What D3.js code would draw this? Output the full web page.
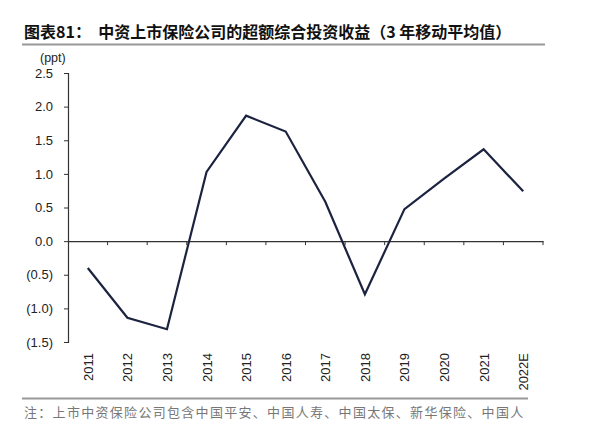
<!DOCTYPE html>
<html><head><meta charset="utf-8">
<script src="https://cdn.jsdelivr.net/npm/d3@7"></script>
<style>body{margin:0;background:#fff;}svg{display:block;}</style>
</head><body>
<svg id="c" width="600" height="425"></svg>
<script>
const categories = ["2011","2012","2013","2014","2015","2016","2017","2018","2019","2020","2021","2022E"];
const values = [-0.40,-1.14,-1.31,1.03,1.865,1.63,0.585,-0.79,0.476,0.93,1.365,0.74];
const yTicks = [2.5,2.0,1.5,1.0,0.5,0.0,-0.5,-1.0,-1.5];
const titleText = "图表81：  中资上市保险公司的超额综合投资收益（3 年移动平均值）";
const unitText = "(ppt)";
const noteText = "注：上市中资保险公司包含中国平安、中国人寿、中国太保、新华保险、中国人";

const svg = d3.select("#c");
const pLeft = 68, pRight = 543, pTop = 73, pBottom = 342;
const x = d3.scaleBand().domain(categories).range([pLeft, pRight]);
const y = d3.scaleLinear().domain([-1.5, 2.5]).range([pBottom, pTop]);
const fmt = v => v < 0 ? "(" + d3.format(".1f")(-v) + ")" : d3.format(".1f")(v);

// title
svg.append("text").attr("x", 24).attr("y", 38)
  .attr("font-family", "'Noto Sans CJK SC', sans-serif").attr("font-weight", "bold")
  .attr("font-size", 16).attr("fill", "#111").attr("xml:space","preserve").text(titleText);
svg.append("line").attr("x1", 22).attr("x2", 545).attr("y1", 44.5).attr("y2", 44.5)
  .attr("stroke", "#999").attr("stroke-width", 2);

// unit
svg.append("text").attr("x", 40).attr("y", 62)
  .attr("font-family", "Arial, 'Liberation Sans', sans-serif").attr("font-size", 12.5).attr("fill", "#222").text(unitText);

// y axis
const yAxis = d3.axisLeft(y).tickValues(yTicks).tickFormat(fmt).tickSizeOuter(0).tickSize(4).tickPadding(11);
const gy = svg.append("g").attr("transform", `translate(${pLeft},0)`).call(yAxis);
gy.selectAll("text").attr("font-family", "Arial, 'Liberation Sans', sans-serif").attr("font-size", 13).attr("fill", "#222");
gy.selectAll("line").attr("stroke", "#333");
gy.select(".domain").attr("stroke", "#333").attr("stroke-width", 1.2);

// x axis at zero
const xAxis = d3.axisBottom(x).tickSizeOuter(0).tickSize(0).tickFormat("");
const gx = svg.append("g").attr("transform", `translate(0,${y(0)})`).call(xAxis);
gx.select(".domain").attr("stroke", "#333").attr("stroke-width", 1.2);
const bounds = categories.map(c => x(c) + x.bandwidth());
gx.selectAll(".bt").data(bounds).enter().append("line").attr("class","bt")
  .attr("x1", d => d).attr("x2", d => d).attr("y1", 0).attr("y2", 4).attr("stroke", "#333");

// x labels rotated
svg.append("g").selectAll("text").data(categories).enter().append("text")
  .attr("transform", d => `translate(${x(d) + x.bandwidth()/2 + 5},353) rotate(-90)`)
  .attr("text-anchor", "end")
  .attr("font-family", "Arial, 'Liberation Sans', sans-serif").attr("font-size", 13).attr("fill", "#222")
  .text(d => d);

// line
const line = d3.line().x((d,i) => x(categories[i]) + x.bandwidth()/2).y(d => y(d));
svg.append("path").datum(values).attr("d", line).attr("fill", "none")
  .attr("stroke", "#1b2340").attr("stroke-width", 2.2).attr("stroke-linejoin", "miter");

// footer
svg.append("line").attr("x1", 22).attr("x2", 528).attr("y1", 398.5).attr("y2", 398.5)
  .attr("stroke", "#999").attr("stroke-width", 2);
svg.append("text").attr("x", 24).attr("y", 417)
  .attr("font-family", "'Noto Sans CJK SC', sans-serif").attr("font-size", 13).attr("letter-spacing", 1.3)
  .attr("fill", "#777").text(noteText);
</script>
</body></html>
